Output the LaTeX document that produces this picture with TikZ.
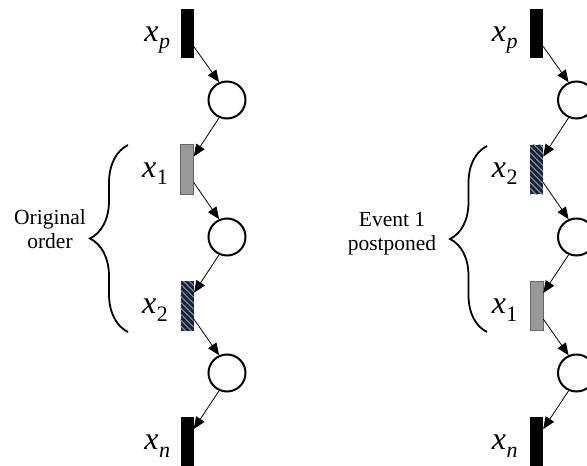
\documentclass[tikz,border=0pt]{standalone}
\usepackage{fontspec}
\setmainfont{Liberation Serif}
\usepackage{xcolor}
\usepackage{tikz}
\usetikzlibrary{arrows.meta,calc,patterns.meta,decorations.pathreplacing}
\definecolor{firedgray}{HTML}{999999}
\definecolor{hatchbg}{HTML}{1B2230}
\definecolor{hatchln}{HTML}{7D93B5}
\newcommand{\evlab}[1]{{\fontsize{32}{32}\selectfont\textit{x}\kern0.5pt\raisebox{-7.5pt}{\fontsize{22}{22}\selectfont #1}}}
\tikzset{
  trans/.style={rectangle, inner sep=0pt, minimum width=13pt, minimum height=49.5pt,
    draw=none, fill=black},
  fired/.style={trans, fill=firedgray, draw=black!60, line width=0.7pt},
  held/.style={trans, preaction={fill=hatchbg},
    pattern={Lines[angle=-45, distance=4.2pt, line width=1.1pt]}, pattern color=hatchln},
  place/.style={circle, draw=black, line width=2pt, minimum size=37pt, inner sep=0pt},
  lbl/.style={inner sep=0pt, anchor=base east},
  note/.style={align=center, font=\fontsize{21.5}{24}\selectfont, inner sep=0pt},
  curly/.style={decorate, decoration={brace, amplitude=#1}, line width=1.8pt},
  arr/.style={-{Triangle[length=12pt, width=10pt]}, line width=0.8pt},
}
\begin{document}
\begin{tikzpicture}[x=1pt, y=1pt]
  \useasboundingbox (0,0) rectangle (587,466);
  \clip (0,0) rectangle (587,466);
  % original order (left net)
  \node[trans] (tpA) at (187,432.5) {};
  \node[place] (p1A) at (227,366) {};
  \node[fired] (t1A) at (187,296.5) {};
  \node[place] (p2A) at (227,229) {};
  \node[held]  (t2A) at (187,160) {};
  \node[place] (p3A) at (227,93) {};
  \node[trans] (tnA) at (187,24) {};
  % event 1 postponed (right net)
  \node[trans] (tpB) at (536.5,432.5) {};
  \node[place] (p1B) at (576.5,366) {};
  \node[held]  (t2B) at (536.5,296.5) {};
  \node[place] (p2B) at (576.5,229) {};
  \node[fired] (t1B) at (536.5,160) {};
  \node[place] (p3B) at (576.5,93) {};
  \node[trans] (tnB) at (536.5,24) {};
  % labels
  \node[lbl] (lpA) at ([xshift=-10pt,yshift=-8pt]tpA.west) {\evlab{\textit{p}}};
  \node[lbl] (l1A) at ([xshift=-12pt,yshift=-8pt]t1A.west) {\evlab{1}};
  \node[lbl] (l2A) at ([xshift=-12pt,yshift=-8pt]t2A.west) {\evlab{2}};
  \node[lbl] (lnA) at ([xshift=-10pt,yshift=-8pt]tnA.west) {\evlab{\textit{n}}};
  \node[lbl] (lpB) at ([xshift=-12pt,yshift=-8pt]tpB.west) {\evlab{\textit{p}}};
  \node[lbl] (l2B) at ([xshift=-12pt,yshift=-8pt]t2B.west) {\evlab{2}};
  \node[lbl] (l1B) at ([xshift=-12pt,yshift=-8pt]t1B.west) {\evlab{1}};
  \node[lbl] (lnB) at ([xshift=-12pt,yshift=-8pt]tnB.west) {\evlab{\textit{n}}};
  % arcs
  \foreach \col in {A,B}{
    \draw[arr] ([yshift=12pt]tp\col.south east) -- (p1\col.114);
    \draw[arr] (p3\col.246) -- ([yshift=-12pt]tn\col.north east);
  }
  \draw[arr] (p1A.246) -- ([yshift=-12pt]t1A.north east);
  \draw[arr] ([yshift=12pt]t1A.south east) -- (p2A.114);
  \draw[arr] (p2A.246) -- ([yshift=-12pt]t2A.north east);
  \draw[arr] ([yshift=12pt]t2A.south east) -- (p3A.114);
  \draw[arr] (p1B.246) -- ([yshift=-12pt]t2B.north east);
  \draw[arr] ([yshift=12pt]t2B.south east) -- (p2B.114);
  \draw[arr] (p2B.246) -- ([yshift=-12pt]t1B.north east);
  \draw[arr] ([yshift=12pt]t1B.south east) -- (p3B.114);
  % braces and notes
  \coordinate (bbA) at (128,134);
  \coordinate (btA) at (128,321);
  \coordinate (bbB) at (487,134);
  \coordinate (btB) at (487,320);
  \draw[curly=38pt] (bbA) -- (btA);
  \draw[curly=37pt] (bbB) -- (btB);
  \node[note] (origA) at (50,236.5) {Original\\order};
  \node[note] (postB) at (392,232.5) {Event 1\\postponed};
\end{tikzpicture}
\end{document}
